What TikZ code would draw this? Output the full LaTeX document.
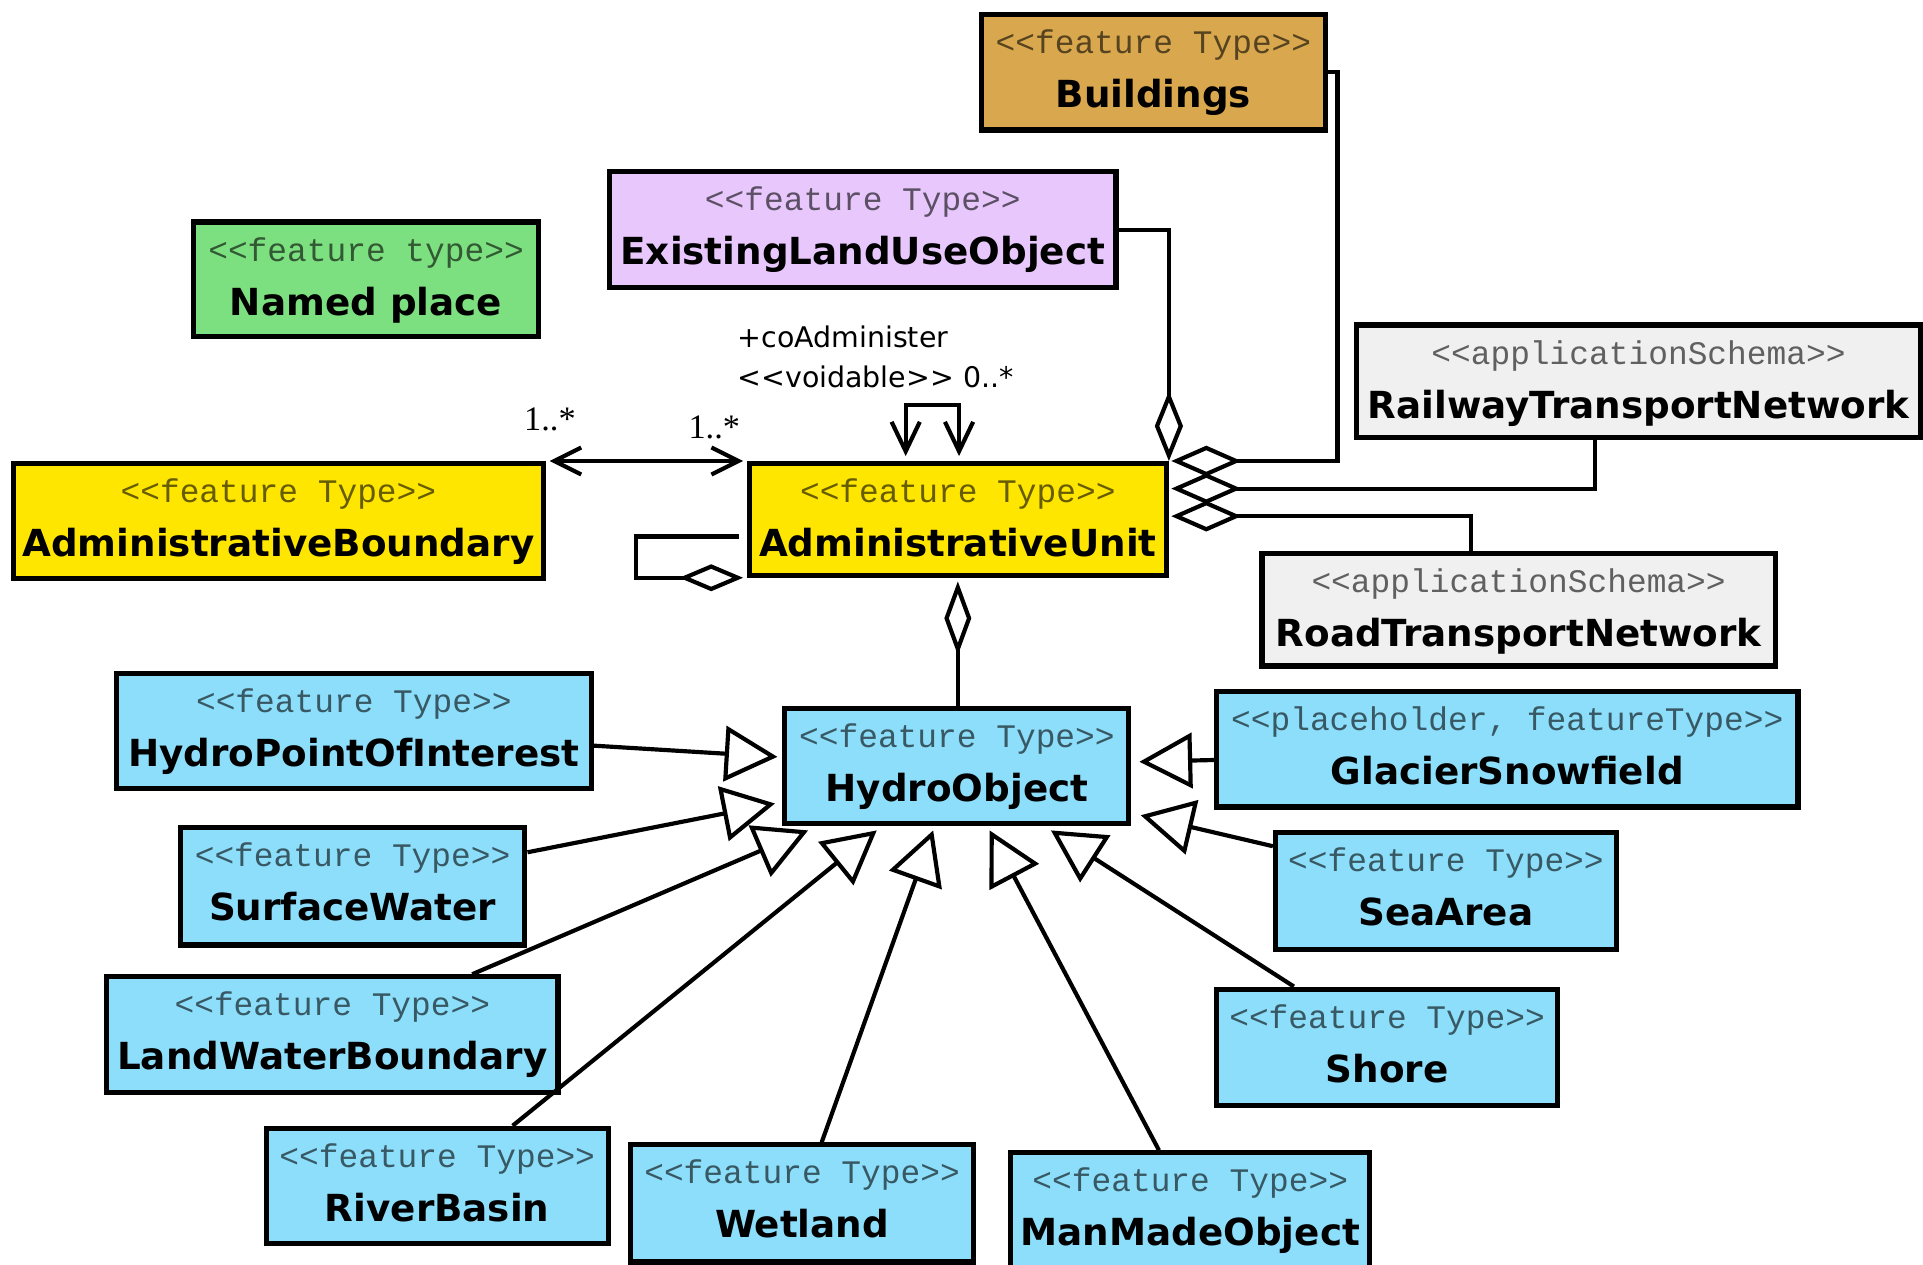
\documentclass[tikz,border=0pt]{standalone}
\usepackage{fontspec}
\usetikzlibrary{arrows.meta,fit,calc}
\newfontfamily\stereofont{Liberation Mono}[Ligatures=TeXOff]
\newfontfamily\namefont{DejaVu Sans}[Ligatures=TeXOff]
\newfontfamily\lblfont{DejaVu Sans}[Ligatures=TeXOff]
\newfontfamily\multfont{Liberation Serif}[Ligatures=TeXOff]
\definecolor{cBuild}{RGB}{217,168,78}
\definecolor{cEluo}{RGB}{232,200,252}
\definecolor{cNamed}{RGB}{125,224,128}
\definecolor{cYellow}{RGB}{255,230,0}
\definecolor{cGrey}{RGB}{240,240,240}
\definecolor{cBlue}{RGB}{140,222,250}
\tikzset{
  classbox/.style={draw=black, line width=2.1pt, rectangle, inner sep=0pt},
  stereo/.style={font=\stereofont\fontsize{13.4}{15}\selectfont, text=black, text opacity=0.6, inner sep=0pt},
  cname/.style={font=\namefont\bfseries\fontsize{15.2}{17}\selectfont, text=black, inner sep=0pt},
  lbl/.style={font=\lblfont\fontsize{11.6}{13}\selectfont, inner sep=0pt},
  mult/.style={font=\multfont\fontsize{14}{16}\selectfont, inner sep=0pt},
  conn/.style={draw=black, line width=1.7pt, line join=miter},
  gen/.style={conn, -{Triangle[open, length=21.5pt, width=22.5pt]}},
  assoc/.style={conn, {Straight Barb[length=11pt,width=11pt]}-{Straight Barb[length=11pt,width=11pt]}},
  selfnav/.style={conn, {Straight Barb[length=12pt,width=11.5pt]}-{Straight Barb[length=12pt,width=11.5pt]}},
  aggR/.style={conn, {Diamond[open, length=28.5pt, width=12.5pt]}-},
  aggUp/.style={conn, {Diamond[open, length=28.5pt, width=11.5pt]}-},
  aggDown/.style={conn, {Diamond[open, length=30pt, width=11pt]}-},
  aggSelf/.style={conn, {Diamond[open, length=26pt, width=11pt]}-},
}
\newcommand{\classbox}[8]{%
  \node[classbox, fill=#6, fit={(#2,#3) (#4,#5)}] (#1) {};
  \node[stereo, anchor=base] (#1-s) at ($(#1.north)+(0,34)$) {#7};
  \node[cname, anchor=base] (#1-t) at ($(#1.north)+(0,78)$) {#8};
}
\begin{document}
\begin{tikzpicture}[x=0.5pt,y=-0.5pt]
\fill[white] (0,0) rectangle (1568,1031);
\useasboundingbox (0,0) rectangle (1568,1031);

% classes
\classbox{bu}{800.5}{12}{1080.5}{106}{cBuild}{<<feature Type>>}{Buildings}
\classbox{eluo}{497}{140}{910}{234.5}{cEluo}{<<feature Type>>}{ExistingLandUseObject}
\classbox{np}{158}{181}{439}{274.5}{cNamed}{<<feature type>>}{Named place}
\classbox{rw}{1106}{265}{1566}{357}{cGrey}{<<applicationSchema>>}{RailwayTransportNetwork}
\classbox{ab}{11}{378}{443}{471.5}{cYellow}{<<feature Type>>}{AdministrativeBoundary}
\classbox{au}{611}{378}{951}{469}{cYellow}{<<feature Type>>}{AdministrativeUnit}
\classbox{rd}{1029}{451}{1447.5}{543}{cGrey}{<<applicationSchema>>}{RoadTransportNetwork}
\classbox{hpi}{95}{549}{482}{643}{cBlue}{<<feature Type>>}{HydroPointOfInterest}
\classbox{ho}{640}{578}{920.5}{671.5}{cBlue}{<<feature Type>>}{HydroObject}
\classbox{gs}{992}{564}{1466}{658}{cBlue}{<<placeholder, featureType>>}{GlacierSnowfield}
\classbox{sw}{147}{675}{428}{770.5}{cBlue}{<<feature Type>>}{SurfaceWater}
\classbox{sa}{1040}{679}{1318}{774}{cBlue}{<<feature Type>>}{SeaArea}
\classbox{lwb}{87}{796.5}{455}{891}{cBlue}{<<feature Type>>}{LandWaterBoundary}
\classbox{sh}{992}{806.5}{1270}{901.5}{cBlue}{<<feature Type>>}{Shore}
\classbox{rb}{217}{920}{496}{1014}{cBlue}{<<feature Type>>}{RiverBasin}
\classbox{wl}{514}{933.5}{794}{1029}{cBlue}{<<feature Type>>}{Wetland}
\classbox{mm}{824}{940}{1117}{1034}{cBlue}{<<feature Type>>}{ManMadeObject}

% association AdministrativeBoundary <-> AdministrativeUnit
\draw[assoc] ($(ab.north east)+(3,0)$) -- ($(au.north west)+(-3,0)$);
\node[mult, anchor=west] (m1) at (427,342) {1..*};
\node[mult, anchor=west] (m2) at (561,348.5) {1..*};

% self association coAdminister
\draw[selfnav] ($(au.north)+(-42.5,-4)$) -- ++(0,-42) -| ($(au.north)+(1,-4)$);
\node[lbl, anchor=west] (rolename) at (601,274.5) {+coAdminister};
\node[lbl, anchor=west] (rolemult) at (601,307) {<<voidable>> 0..*};

% self aggregation
\draw[aggSelf] ($(au.south west)+(-3,0)$) -- ++(-87.5,0) |- ($(au.west)+(-6,14)$);

% aggregations on the right
\draw[aggUp] (au.north east) |- (eluo.east);
\draw[aggR] ($(au.north east)+(2,0)$) -| ($(bu.east)+(8,0)$) -- (bu.east);
\draw[aggR] ($(au.north east)+(2,22.5)$) -| ($(rw.south west)+(196.7,0)$);
\draw[aggR] ($(au.north east)+(2,45)$) -| ($(rd.north west)+(172.7,0)$);

% AdministrativeUnit - HydroObject
\draw[aggDown] ($(au.south)+(0,3)$) -- (au.south |- ho.north);

% generalizations
\draw[gen] ($(hpi.east)+(0,12)$) -- ($(ho.west)+(-4,-7.6)$);
\draw[gen] ($(sw.east)+(0,-27.8)$) -- ($(ho.west)+(-6,30.4)$);
\draw[gen] ($(lwb.north)+(114,0)$) -- ($(ho.south west)+(21,3.5)$);
\draw[gen] ($(rb.north)+(61.5,0)$) -- ($(ho.south west)+(77,3.5)$);
\draw[gen] ($(wl.north)+(16,0)$) -- ($(ho.south west)+(123,3.5)$);
\draw[gen] ($(mm.north)+(-25.5,0)$) -- ($(ho.south west)+(169,3.5)$);
\draw[gen] ($(sh.north)+(-76,0)$) -- ($(ho.south west)+(219,3.5)$);
\draw[gen] ($(sa.west)+(0,-36.5)$) -- ($(ho.east)+(7.5,40)$);
\draw[gen] ($(gs.west)+(0,8.7)$) -- ($(ho.east)+(6.5,-3.6)$);
\end{tikzpicture}
\end{document}
